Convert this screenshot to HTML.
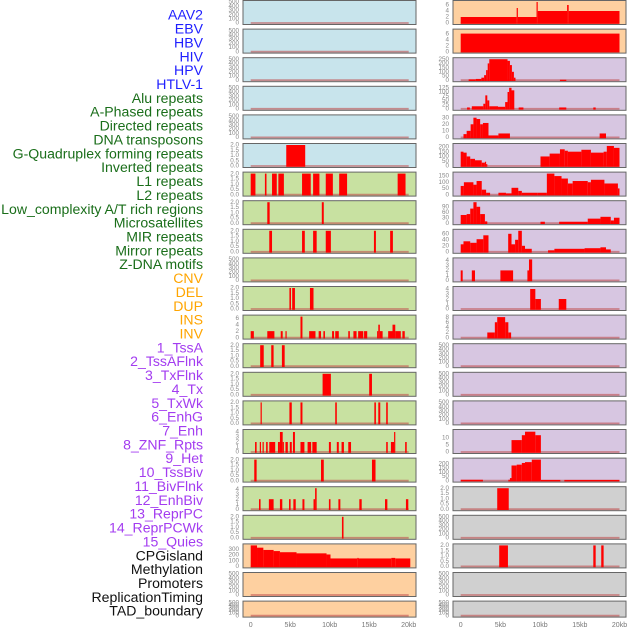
<!DOCTYPE html>
<html><head><meta charset="utf-8">
<style>
html,body{margin:0;padding:0;background:#fff;width:630px;height:630px;overflow:hidden}
svg{display:block;font-family:"Liberation Sans",sans-serif}
</style></head>
<body>
<svg id="chart" width="630" height="630" viewBox="0 0 630 630" xmlns="http://www.w3.org/2000/svg"></svg>
<script>
// ---- data ----
const trackLabels = ["AAV2","EBV","HBV","HIV","HPV","HTLV-1","Alu repeats","A-Phased repeats","Directed repeats","DNA transposons","G-Quadruplex forming repeats","Inverted repeats","L1 repeats","L2 repeats","Low_complexity A/T rich regions","Microsatellites","MIR repeats","Mirror repeats","Z-DNA motifs","CNV","DEL","DUP","INS","INV","1_TssA","2_TssAFlnk","3_TxFlnk","4_Tx","5_TxWk","6_EnhG","7_Enh","8_ZNF_Rpts","9_Het","10_TssBiv","11_BivFlnk","12_EnhBiv","13_ReprPC","14_ReprPCWk","15_Quies","CPGisland","Methylation","Promoters","ReplicationTiming","TAD_boundary"];
const labelGroups = [6,13,5,15,5];
const groupColors = ["#1f1fff","#1a6e1a","#ffa500","#a33cf0","#111111"];

const xTicks = [0,5,10,15,20];
const xTickLabels = ["0","5kb","10kb","15kb","20kb"];

const T500=[0,100,200,300,400,500], T2=[0,0.5,1,1.5,2];
const leftTicks = [T500,T500,T500,T500,T500,T2,T2,T2,T2,T500,T2,[0,2,4,6],T2,T2,T2,[0,1,2,3,4],T2,[0,1,2,3,4],T2,[0,100,200,300],T500,T500];
const leftYmax = [500,500,500,500,500,2,2,2,2,500,2,6.5,2,2,2,4.2,2,4.2,2,370,500,500];
const leftBg = ["b","b","b","b","b","b","g","g","g","g","g","g","g","g","g","g","g","g","g","o","o","o"];
// segments [startKb, endKb, value]
const leftSegs = [
 [],[],[],[],[],
 [[4.5,6.9,2]],
 [[0,0.6,2],[1.8,2.0,2],[2.7,3.3,2],[3.5,4.2,2],[6.5,7.6,2],[7.9,8.7,2],[9.5,10.4,2],[11.2,12.2,2],[18.6,19.6,2]],
 [[2.1,2.4,2],[9.0,9.25,2]],
 [[2.35,2.7,2],[6.5,6.85,2],[7.9,8.35,2],[9.5,10.15,2],[15.6,15.85,2],[17.65,18.0,2]],
 [],
 [[4.9,5.1,2],[5.25,5.6,2],[7.5,7.95,2]],
 [[0,0.4,2],[2.1,3.0,2],[3.8,4.05,2],[4.4,4.55,2],[6.3,6.55,6.5],[7.4,8.2,2],[8.6,8.9,2],[9.2,9.4,2],[10.3,10.55,2],[10.7,11.15,2],[12.35,12.55,2],[13.0,13.4,2],[13.6,14.25,2],[14.35,14.75,2],[16.0,16.15,2],[16.15,16.35,4],[16.35,16.7,2],[17.4,17.95,2],[17.95,18.3,4],[18.3,19.0,2],[19.2,19.5,2]],
 [[1.2,1.65,2],[2.6,2.9,2],[3.95,4.3,2]],
 [[9.1,10.15,2],[15.0,15.35,2]],
 [[1.25,1.4,2],[4.9,5.2,2],[6.3,6.55,2],[10.7,10.9,2],[15.65,15.85,2],[16.15,16.4,2],[17.15,17.35,2]],
 [[0.55,0.75,2],[1.15,1.3,2],[1.5,1.65,2],[1.95,2.15,2],[2.35,3.1,2],[3.45,3.7,2],[3.7,4.05,4],[4.05,4.2,2],[4.4,4.7,2],[4.95,5.2,2],[5.35,5.6,4],[6.3,6.8,2],[7.2,7.65,2],[7.8,8.35,2],[9.9,10.15,2],[10.9,11.15,2],[11.5,11.8,2],[12.35,12.7,2],[17.15,17.35,2],[17.75,18.15,2],[18.15,18.3,4],[19.55,19.75,2]],
 [[0.45,0.75,2],[8.9,9.25,2],[15.35,15.8,2]],
 [[1.05,1.25,2],[2.3,2.9,2],[3.7,4.0,2],[4.85,5.05,2],[5.4,5.7,2],[6.55,6.8,2],[7.95,8.15,2],[8.15,8.35,4.2],[9.9,10.1,2],[11.1,11.35,2],[13.75,14.05,2],[17.0,17.3,2],[19.65,19.95,2]],
 [[11.55,11.75,2]],
 [[0,0.8,370],[0.8,1.6,330],[1.6,2.9,290],[2.9,3.7,270],[3.7,5.8,250],[5.8,9.6,230],[9.6,10.1,210],[10.1,13.5,140],[13.5,13.6,150],[13.6,17.8,140],[17.8,18.3,150],[18.3,20.2,140]],
 [],[]
];

const rightTicks = [[0,2,4,6],[0,2,4,6],[0,50,100,150,200,250],[0,25,50,75,100,125],[0,10,20,30],[0,50,100,150,200],[0,50,100,150],[0,30,60,90],[0,20,40,60],[0,1,2,3,4],[0,1,2,3,4],[0,2,4,6,8],T500,T500,T500,[0,5,10],[0,50,100,150,200],T2,T500,T2,T500,T500];
const rightYmax = [7,7,250,125,32,220,170,115,70,4.2,4.2,8.2,500,500,500,15,250,2,500,2,500,500];
const rightBg = ["o","o","p","p","p","p","p","p","p","p","p","p","p","p","p","p","p","y","y","y","y","y"];
const rightSegs = [
 [[0,7.05,2],[7.05,7.2,5],[7.2,9.55,2],[9.55,9.7,7],[9.7,13.4,4],[13.4,13.6,6],[13.6,20,4]],
 [[0,20,6]],
 [[1.0,1.9,10],[1.9,2.6,15],[2.6,2.95,30],[2.95,3.2,60],[3.2,3.4,120],[3.4,3.6,200],[3.6,5.9,250],[5.9,6.2,230],[6.2,6.45,180],[6.45,6.7,100],[6.7,6.9,30],[12.5,13.3,5]],
 [[0.8,1.15,8],[1.4,2.85,15],[2.85,3.1,30],[3.1,3.35,80],[3.35,3.6,50],[3.6,4.7,15],[4.7,5.6,12],[5.6,5.9,40],[5.9,6.1,100],[6.1,6.4,125],[6.4,6.75,110],[7.3,7.9,8],[12.4,13.3,8],[16.7,17.0,8]],
 [[0.35,0.75,5],[0.75,1.25,10],[1.25,1.6,20],[1.6,2.0,30],[2.0,2.45,28],[2.45,2.8,20],[2.8,3.5,22],[3.5,4.75,3],[4.75,6.2,6],[17.5,18.3,6]],
 [[0,0.35,150],[0.35,0.75,140],[0.75,1.2,100],[1.2,1.8,75],[1.8,2.65,60],[2.65,3.05,35],[3.05,3.2,45],[3.2,3.2,20],[10.05,11.2,100],[11.2,12.5,130],[12.5,13.1,175],[13.1,13.5,160],[13.5,15.2,150],[15.2,16.4,170],[16.4,18.0,140],[18.0,18.4,150],[18.4,19.3,210],[19.3,20,190]],
 [[0,0.4,70],[0.4,1.6,100],[1.6,2.0,80],[2.0,2.65,110],[2.65,3.2,40],[3.2,3.7,15],[4.75,5.7,15],[5.7,6.4,10],[6.4,7.25,55],[7.25,7.7,30],[7.7,9.7,15],[9.7,10.85,15],[10.85,11.8,170],[11.8,12.7,150],[12.7,13.5,130],[13.5,14.1,90],[14.1,16.0,110],[16.0,16.4,100],[16.4,18.1,120],[18.1,19.8,90],[19.8,20,50]],
 [[0,0.75,45],[0.75,1.2,50],[1.2,1.6,80],[1.6,2.0,115],[2.0,2.45,90],[2.45,3.05,50],[3.05,3.35,10],[10.05,10.6,8],[12.4,16.0,8],[16.0,17.6,25],[17.6,18.9,35],[18.9,19.3,15],[19.3,20,30]],
 [[0,0.35,25],[0.35,1.2,35],[1.2,2.0,30],[2.0,2.85,42],[2.85,3.5,55],[5.98,6.4,60],[6.4,6.85,25],[6.85,7.25,40],[7.25,7.7,70],[7.7,8.1,20],[8.1,8.95,10],[11.0,11.8,5],[11.8,15.6,10],[15.6,17.6,12],[17.6,18.3,15],[18.3,18.9,8]],
 [[0,0.25,2],[1.4,1.8,2],[5.0,6.6,2],[8.4,8.6,2],[8.6,9.0,4.2]],
 [[8.75,9.4,4],[9.4,10.1,2],[12.35,13.3,2]],
 [[3.35,4.3,2],[4.3,4.6,6],[4.6,5.6,8],[5.6,6.0,6],[6.0,6.35,2]],
 [],[],[],
 [[6.4,7.7,8.5],[7.7,8.1,12],[8.1,9.4,14.5],[9.4,10.1,12]],
 [[0,2.8,10],[6.0,6.2,10],[6.2,6.4,30],[6.4,7.05,180],[7.05,7.7,190],[7.7,8.1,210],[8.1,8.95,220],[8.95,10.1,250],[10.1,12.55,8],[13.05,20,8]],
 [[4.6,6.05,2]],
 [],
 [[4.85,5.95,2],[16.7,17.0,2],[17.7,18.0,2]],
 [],[]
];

// ---- layout ----
const NS="http://www.w3.org/2000/svg";
const svg=document.getElementById("chart");
const bgColors={b:"#c8e4ec",g:"#c8e1a1",o:"#fed0a0",p:"#d7c6e1",y:"#d0d0d0"};
const cols=[{x0:243,w:173,z:250.7,s:7.9,ticks:leftTicks,ymax:leftYmax,bg:leftBg,segs:leftSegs,side:"left"},
            {x0:453,w:173,z:460.7,s:7.94,ticks:rightTicks,ymax:rightYmax,bg:rightBg,segs:rightSegs,side:"right"}];
function mk(tag,attrs){const e=document.createElementNS(NS,tag);for(const k in attrs)e.setAttribute(k,attrs[k]);return e;}
function rowTop(i){return 0.5+28.6*i;}
function rowH(i){return i===21?16:24;}

// labels
let li=0;
labelGroups.forEach((n,g)=>{for(let k=0;k<n;k++){
  const t=mk("text",{x:203,y:16+13.86*li,"text-anchor":"end","dominant-baseline":"middle","font-size":"14.1",fill:groupColors[g]});
  t.textContent=trackLabels[li];
  
  
  svg.appendChild(t);li++;}});

cols.forEach((c,ci)=>{
  const xs=kb=>c.z+kb*c.s;
  for(let i=0;i<22;i++){
    const T=rowTop(i),H=rowH(i),B=T+H-1.5;
    const ys=v=>B-(v/c.ymax[i])*(H-3);
    const g=mk("g",{});
    
    
    svg.appendChild(g);
    const r=mk("rect",{x:c.x0,y:T,width:c.w,height:H,fill:bgColors[c.bg[i]],stroke:"#666","stroke-width":"1"});
    
    
    g.appendChild(r);
    const base=mk("line",{x1:xs(0),x2:xs(20),y1:B,y2:B,stroke:"#c05050","stroke-width":"1.8","stroke-opacity":"0.6"});
    
    
    g.appendChild(base);
    c.segs[i].forEach(sg=>{
      const v=Math.min(sg[2],c.ymax[i]);
      const x1=xs(sg[0]),x2=xs(sg[1]);
      const y=Math.max(ys(v),T+0.5);
      const b=mk("rect",{x:x1,y:y,width:Math.max(x2-x1,1.2),height:B-y+0.8,fill:"#ff0000"});
      
      
      g.appendChild(b);
    });
    c.ticks[i].forEach(tv=>{
      const ty=ys(tv);
      const t=mk("text",{x:c.x0-4,y:ty,"text-anchor":"end","dominant-baseline":"middle","font-size":"6.3",fill:"#888"});
      t.textContent=(c.ticks[i]===T2)?tv.toFixed(1):String(tv);
      
      
      g.appendChild(t);
    });
  }
  xTicks.forEach((kb,k)=>{
    const t=mk("text",{x:xs(kb),y:627,"text-anchor":"middle","font-size":"7",fill:"#777"});
    t.textContent=xTickLabels[k];
    
    
    svg.appendChild(t);
  });
});
</script>
</body></html>
